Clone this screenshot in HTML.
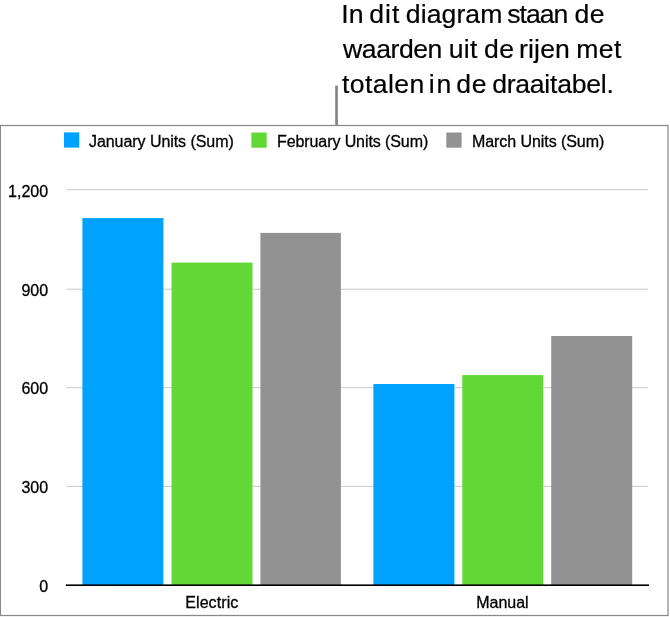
<!DOCTYPE html>
<html lang="nl">
<head>
<meta charset="utf-8">
<title>Diagram</title>
<style>
html,body{margin:0;padding:0;background:#fff;}
body{width:670px;height:617px;overflow:hidden;}
svg{display:block;position:absolute;left:0;top:0;}
text{font-family:"Liberation Sans",sans-serif;fill:#000;}
.co{font-size:26.6px;stroke:#000;stroke-width:0.2px;}
.t{font-size:16px;stroke:#000;stroke-width:0.3px;}
.b{fill:#00a2ff;}
.g{fill:#61d836;}
.s{fill:#929292;}
.grid{stroke:#c8c8c8;stroke-width:1;}
</style>
</head>
<body>
<svg width="670" height="617" viewBox="0 0 670 617">
<rect x="0" y="0" width="670" height="617" fill="#fff"/>

<!-- callout -->
<text class="co" y="22.8"><tspan x="341.23" letter-spacing="0.03">In</tspan> <tspan x="369.23" letter-spacing="1.06">dit</tspan> <tspan x="405.83" letter-spacing="0.07">diagram</tspan> <tspan x="507.23" letter-spacing="-0.99">staan</tspan> <tspan x="574.43" letter-spacing="0.60">de</tspan></text>
<text class="co" y="57.8"><tspan x="343.10" letter-spacing="-0.45">waarden</tspan> <tspan x="448.63" letter-spacing="0.37">uit</tspan> <tspan x="483.93" letter-spacing="0.55">de</tspan> <tspan x="519.03" letter-spacing="0.16">rijen</tspan> <tspan x="576.13" letter-spacing="0.45">met</tspan></text>
<text class="co" y="92.8"><tspan x="341.97" letter-spacing="0.41">totalen</tspan> <tspan x="428.87" letter-spacing="1.68">in</tspan> <tspan x="456.13" letter-spacing="0.75">de</tspan> <tspan x="492.13" letter-spacing="-0.25">draaitabel.</tspan></text>
<rect x="335.2" y="85.6" width="2.6" height="40" fill="#828282"/>

<!-- frame -->
<rect x="0.4" y="125.5" width="667.6" height="490" fill="none" stroke="#88898c" stroke-width="1.25"/>

<!-- legend -->
<rect class="b" x="64" y="132.4" width="15.3" height="15.2"/>
<text class="t" x="89" y="147" letter-spacing="-0.06">January Units (Sum)</text>
<rect class="g" x="251.4" y="132.5" width="15.3" height="15.2"/>
<text class="t" x="277" y="147" letter-spacing="-0.09">February Units (Sum)</text>
<rect class="s" x="446.3" y="132.5" width="15.3" height="15.2"/>
<text class="t" x="472" y="147" letter-spacing="-0.07">March Units (Sum)</text>

<!-- gridlines -->
<line class="grid" x1="66.5" x2="648.3" y1="189.7" y2="189.7"/>
<line class="grid" x1="66.5" x2="648.3" y1="289.2" y2="289.2"/>
<line class="grid" x1="66.5" x2="648.3" y1="387.7" y2="387.7"/>
<line class="grid" x1="66.5" x2="648.3" y1="486.4" y2="486.4"/>

<!-- y labels -->
<text class="t" x="48.1" y="197.0" text-anchor="end">1,200</text>
<text class="t" x="48.1" y="295.8" text-anchor="end">900</text>
<text class="t" x="48.1" y="394.4" text-anchor="end">600</text>
<text class="t" x="48.1" y="493.4" text-anchor="end">300</text>
<text class="t" x="48.1" y="592.1" text-anchor="end">0</text>

<!-- bars -->
<rect class="b" x="82.4" y="218.1" width="81" height="367"/>
<rect class="g" x="171.5" y="262.6" width="81" height="322.8"/>
<rect class="s" x="260.4" y="232.9" width="80.5" height="352.4"/>
<rect class="b" x="373.4" y="384" width="81" height="201.2"/>
<rect class="g" x="462.3" y="375.1" width="81" height="210.1"/>
<rect class="s" x="551.2" y="336" width="81" height="249.2"/>

<!-- axis -->
<rect x="65.8" y="584.4" width="583.2" height="1.6" fill="#000"/>

<!-- x labels -->
<text class="t" x="211.8" y="608" text-anchor="middle" letter-spacing="0.08">Electric</text>
<text class="t" x="502.4" y="608" text-anchor="middle">Manual</text>
</svg>
</body>
</html>
